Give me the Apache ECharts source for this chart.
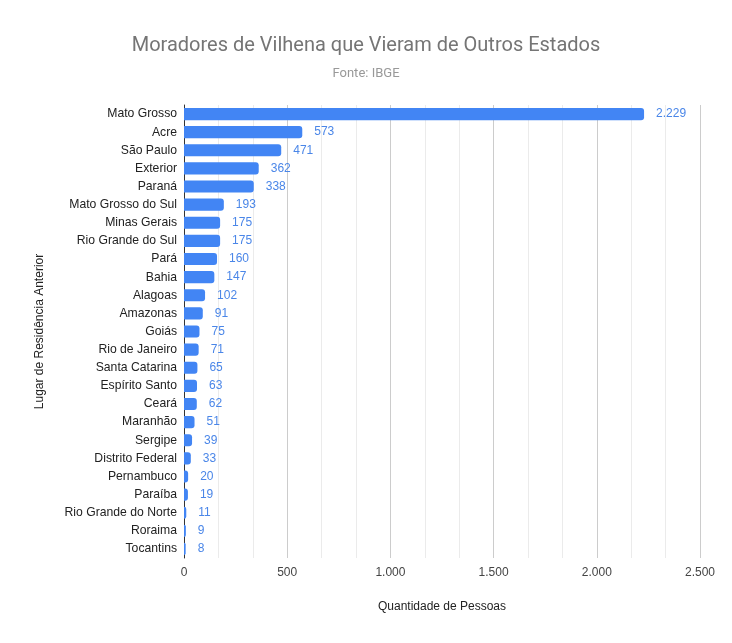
<!DOCTYPE html>
<html><head><meta charset="utf-8">
<script src="https://cdn.jsdelivr.net/npm/echarts@6/dist/echarts.min.js"></script>
<style>html,body{margin:0;padding:0;background:#fff}#c{width:732px;height:643px}</style>
</head><body><div id="c"></div>
<script>
const categories = ["Mato Grosso","Acre","São Paulo","Exterior","Paraná","Mato Grosso do Sul","Minas Gerais","Rio Grande do Sul","Pará","Bahia","Alagoas","Amazonas","Goiás","Rio de Janeiro","Santa Catarina","Espírito Santo","Ceará","Maranhão","Sergipe","Distrito Federal","Pernambuco","Paraíba","Rio Grande do Norte","Roraima","Tocantins"];
const values = [2229,573,471,362,338,193,175,175,160,147,102,91,75,71,65,63,62,51,39,33,20,19,11,9,8];
const xTicks = [0,500,1000,1500,2000,2500];

function fmt(v){ return String(v).replace(/\B(?=(\d{3})+(?!\d))/g, "."); }

const chart = echarts.init(document.getElementById('c'));
const F = '"Liberation Sans", Arial, sans-serif';
const FT = 'Roboto, Arial, sans-serif';
chart.setOption({
  animation:false,
  title:{
    text:'Moradores de Vilhena que Vieram de Outros Estados',
    subtext:'Fonte: IBGE',
    left:'center', top:31, itemGap:11,
    textStyle:{fontFamily:FT,fontSize:20,fontWeight:'normal',color:'#757575'},
    subtextStyle:{fontFamily:FT,fontSize:13,color:'#999'}
  },
  grid:{left:184,right:32,top:105,bottom:85,containLabel:false},
  xAxis:{
    type:'value', min:xTicks[0], max:xTicks[xTicks.length-1], interval:500,
    name:'Quantidade de Pessoas', nameLocation:'middle', nameGap:43,
    nameTextStyle:{fontFamily:F,fontSize:12,color:'#222'},
    axisLine:{show:false}, axisTick:{show:false},
    axisLabel:{fontFamily:F,fontSize:12,color:'#444',margin:9,formatter:fmt},
    splitLine:{show:true,lineStyle:{color:'#cccccc',width:1}},
    minorTick:{show:false,splitNumber:3},
    minorSplitLine:{show:true,lineStyle:{color:'#ebebeb',width:1}}
  },
  yAxis:{
    type:'category', data:categories, inverse:true,
    name:'Lugar de Residência Anterior', nameLocation:'middle', nameGap:138, nameRotate:90,
    nameTextStyle:{fontFamily:F,fontSize:12,color:'#222'},
    axisLine:{show:true,lineStyle:{color:'#333',width:1}},
    axisTick:{show:false},
    axisLabel:{fontFamily:F,fontSize:12.2,color:'#222',margin:7}
  },
  series:[{
    type:'bar', data:values, barCategoryGap:'33%',
    itemStyle:{color:'#4285f4',borderRadius:[0,3,3,0]},
    label:{show:true,position:'right',distance:12,fontFamily:F,fontSize:12,color:'#4a86e8',formatter:p=>fmt(p.value)}
  }]
});
</script></body></html>
